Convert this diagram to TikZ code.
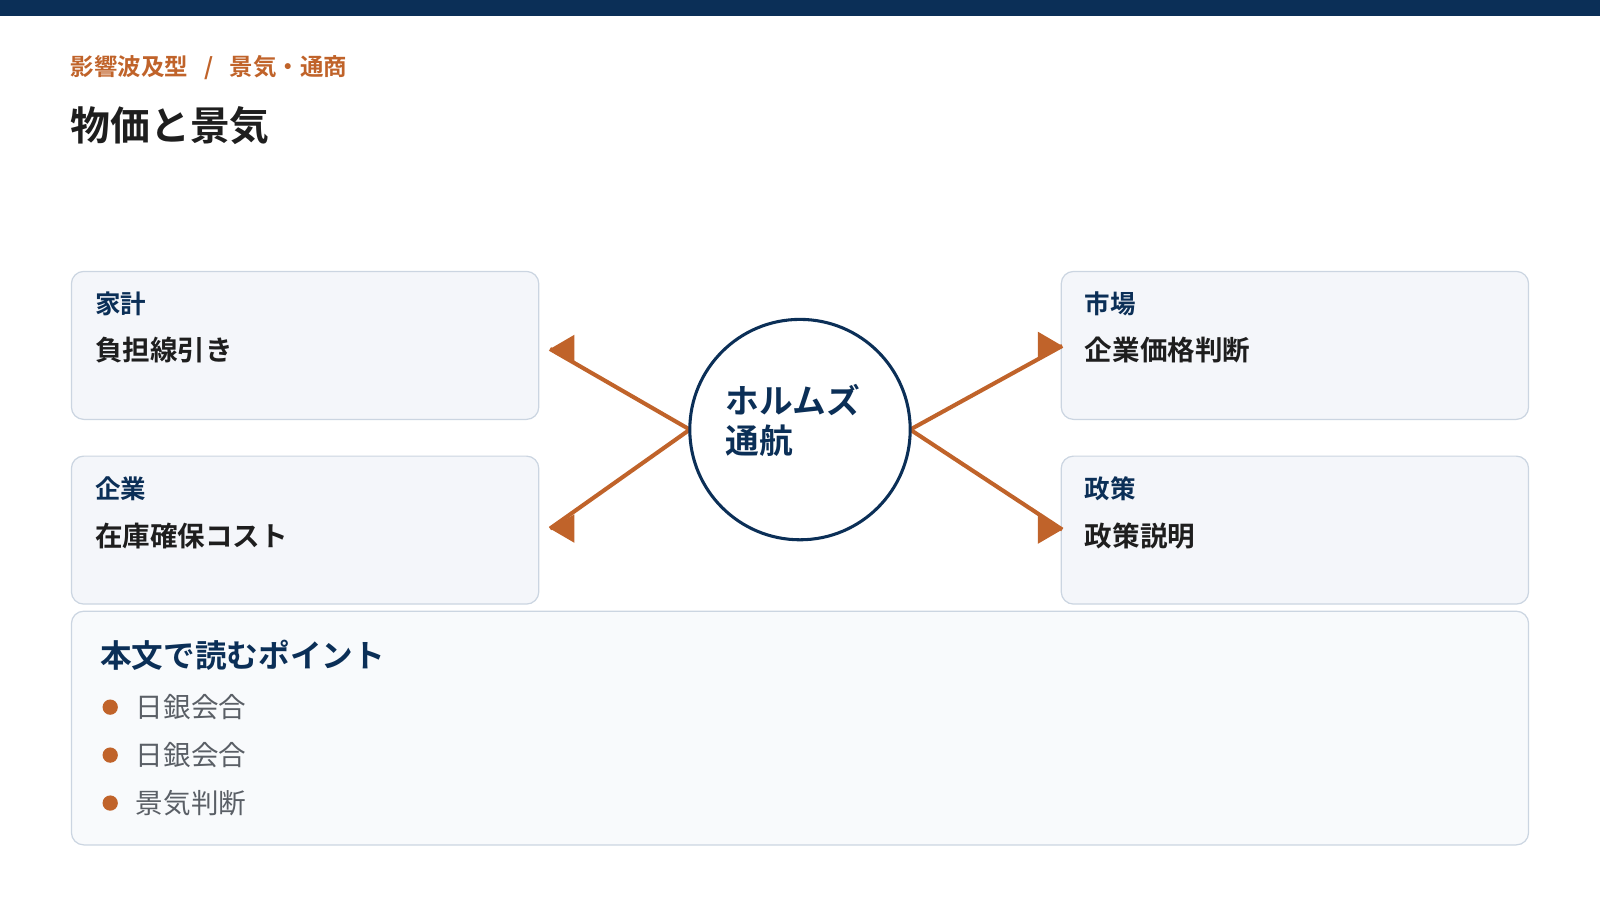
\documentclass[tikz,border=0pt]{standalone}
\usepackage{fontspec}
\setmainfont{Noto Sans CJK JP}[BoldFont={* Bold}]
\definecolor{navy}{HTML}{0B2F57}
\definecolor{org}{HTML}{C0632A}
\definecolor{bx}{HTML}{F4F6FA}
\definecolor{bd}{HTML}{CBD5E1}
\definecolor{txt}{HTML}{1E1E1E}
\definecolor{gr}{HTML}{5A5F66}
\tikzset{
 card/.style={draw=bd,line width=1.2pt,fill=bx,rounded corners=12pt},
 hd/.style={anchor=west,text=navy,font=\fontsize{25}{29}\selectfont\bfseries,inner sep=0},
 bd2/.style={anchor=west,text=txt,font=\fontsize{27}{31}\selectfont\bfseries,inner sep=0},
 ln/.style={draw=org,line width=4pt},
 bl/.style={anchor=west,text=gr,font=\fontsize{27}{31}\selectfont,inner sep=0},
}
\begin{document}
\begin{tikzpicture}[x=1pt,y=-1pt]
\useasboundingbox (0,0) rectangle (1568,882);
\fill[navy] (0,0) rectangle (1568,16);
\node[anchor=west,text=org,font=\fontsize{23}{27}\selectfont\bfseries,inner sep=0] (bc) at (69,66) {影響波及型\hspace{16pt}/\hspace{16pt}景気・通商};
\node[anchor=west,text=txt,font=\fontsize{39}{45}\selectfont\bfseries,inner sep=0] (tt) at (69,123) {物価と景気};
\draw[card] (70,266) rectangle (528,411);
\draw[card] (70,447) rectangle (528,592);
\draw[card] (1040,266) rectangle (1498,411);
\draw[card] (1040,447) rectangle (1498,592);
\draw[card,fill=bx!60!white] (70,599) rectangle (1498,828);
\node[hd] (h1) at (93,298) {家計};
\node[bd2] (b1) at (93,343) {負担線引き};
\node[hd] (h2) at (93,479) {企業};
\node[bd2] (b2) at (93,525) {在庫確保コスト};
\node[hd] (h3) at (1063,298) {市場};
\node[bd2] (b3) at (1063,343) {企業価格判断};
\node[hd] (h4) at (1063,479) {政策};
\node[bd2] (b4) at (1063,525) {政策説明};
\coordinate (t1) at (539,342);
\coordinate (t2) at (539,518);
\coordinate (t3) at (1041,339);
\coordinate (t4) at (1041,519);
\coordinate (l) at (676,421);
\coordinate (r) at (892,421);
\draw[ln] (l) -- (t1);
\draw[ln] (l) -- (t2);
\draw[ln] (r) -- (t3);
\draw[ln] (r) -- (t4);
\fill[org] (t1) -- ++(24,-14) -- ++(0,28) -- cycle;
\fill[org] (t2) -- ++(24,-14) -- ++(0,28) -- cycle;
\fill[org] (t3) -- ++(-24,-14) -- ++(0,28) -- cycle;
\fill[org] (t4) -- ++(-24,-14) -- ++(0,28) -- cycle;
\node[circle,draw=navy,line width=3pt,fill=white,minimum size=216pt] (c) at (784,421) {};
\node[anchor=west,align=left,text=navy,font=\fontsize{33}{39}\selectfont\bfseries,inner sep=0] (ct) at (711,412) {ホルムズ\\通航};
\node[anchor=west,text=navy,font=\fontsize{31}{35}\selectfont\bfseries,inner sep=0] (pt) at (98,642) {本文で読むポイント};
\foreach \y/\t [count=\i] in {693/日銀会合,740/日銀会合,787/景気判断}{
 \fill[org] (108,\y) circle (7.5pt);
 \node[bl] (p\i) at (133,\y) {\t};
}
\end{tikzpicture}
\end{document}
